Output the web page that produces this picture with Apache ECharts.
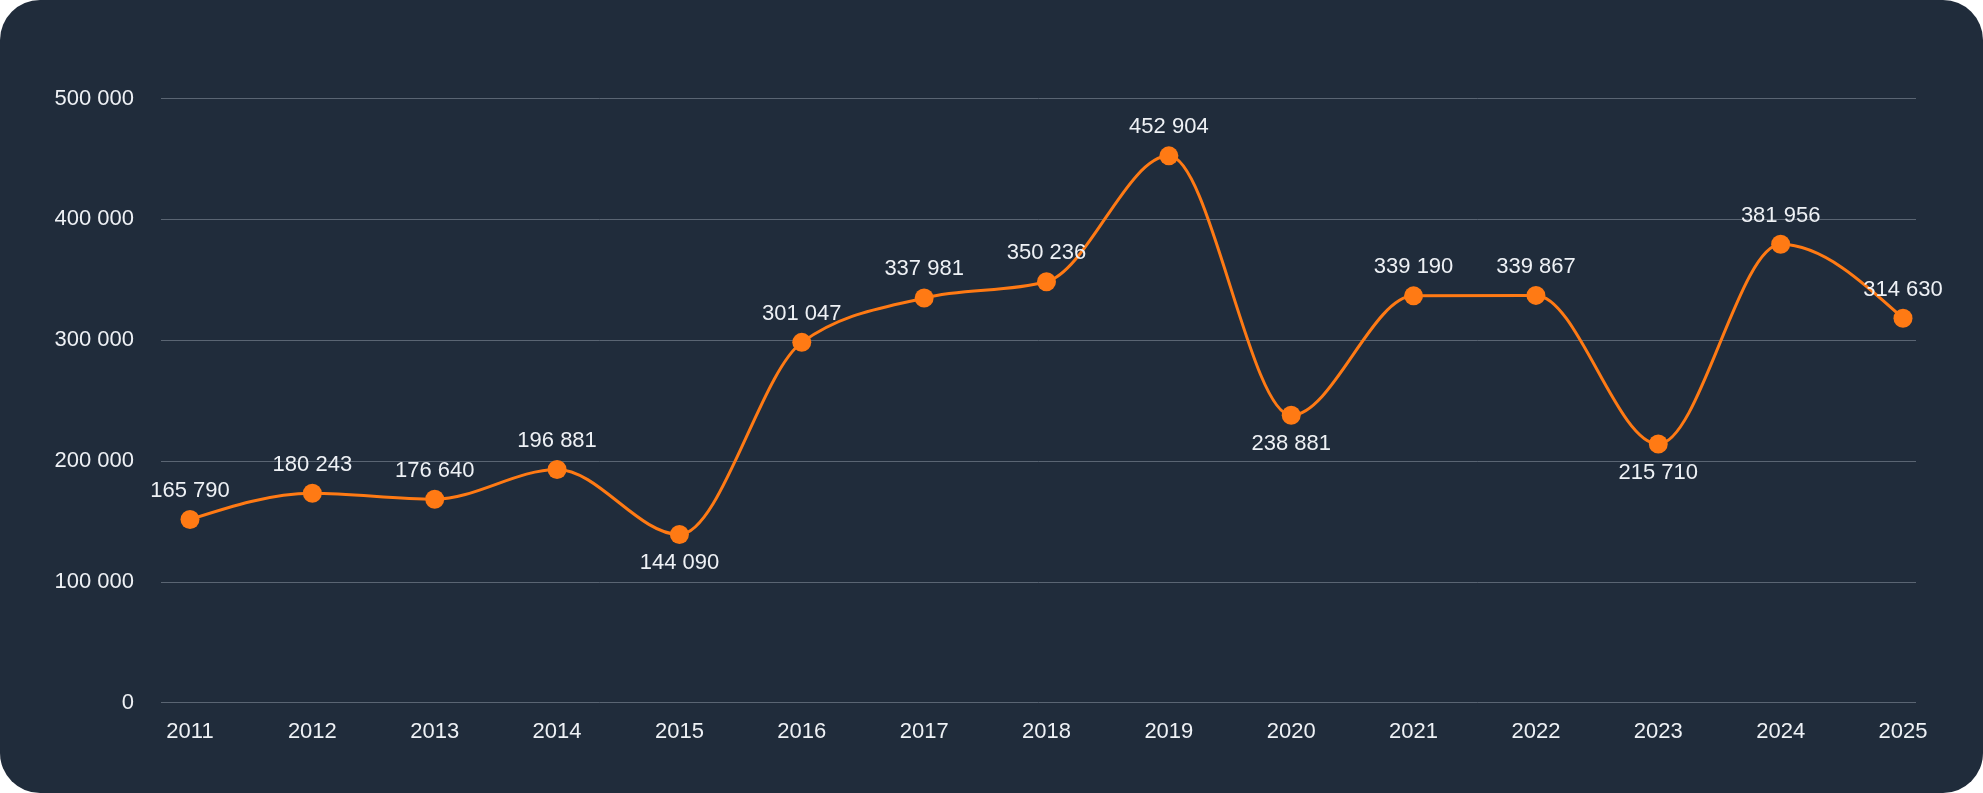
<!DOCTYPE html>
<html>
<head>
<meta charset="utf-8">
<script src="https://cdn.jsdelivr.net/npm/echarts@6/dist/echarts.min.js"></script>
<style>
  html, body { margin: 0; padding: 0; background: #ffffff; }
  #chart {
    width: 1983px;
    height: 793px;
    background: #202c3b;
    border-radius: 40px;
    overflow: hidden;
  }
</style>
</head>
<body>
<div id="chart"></div>
<script>
// data
const years = ["2011", "2012", "2013", "2014", "2015", "2016", "2017", "2018",
  "2019", "2020", "2021", "2022", "2023", "2024", "2025"];
// where the dots sit on the value scale
const values = [151600, 173300, 168400, 193000, 139100, 298200, 335000, 348400,
  452600, 237800, 336700, 337100, 214000, 379400, 318200];
// the numbers printed next to the dots
const valueLabels = ["165 790", "180 243", "176 640", "196 881", "144 090", "301 047",
  "337 981", "350 236", "452 904", "238 881", "339 190", "339 867", "215 710",
  "381 956", "314 630"];
// years whose label sits under the dot
const labelBelow = ["2015", "2020", "2023"];
const yTicks = [0, 100000, 200000, 300000, 400000, 500000];

const textColor = "#eef1f5";
const orange = "#ff7a14";
const fontFamily = "'Liberation Sans', Arial, sans-serif";

function spaced(v) {
  return String(v).replace(/\B(?=(\d{3})+(?!\d))/g, " ");
}

function sign(x) {
  return x < 0 ? -1 : 1;
}

// monotone cubic tangents (same idea as d3 curveMonotoneX)
function monotoneTangents(pts) {
  const n = pts.length;
  const t = new Array(n).fill(0);
  for (let i = 1; i < n - 1; i++) {
    const h0 = pts[i][0] - pts[i - 1][0];
    const h1 = pts[i + 1][0] - pts[i][0];
    const s0 = (pts[i][1] - pts[i - 1][1]) / h0;
    const s1 = (pts[i + 1][1] - pts[i][1]) / h1;
    const p = (s0 * h1 + s1 * h0) / (h0 + h1);
    t[i] = (sign(s0) + sign(s1)) * Math.min(Math.abs(s0), Math.abs(s1), 0.5 * Math.abs(p)) || 0;
  }
  const hA = pts[1][0] - pts[0][0];
  t[0] = (3 * (pts[1][1] - pts[0][1]) / hA - t[1]) / 2;
  const hB = pts[n - 1][0] - pts[n - 2][0];
  t[n - 1] = (3 * (pts[n - 1][1] - pts[n - 2][1]) / hB - t[n - 2]) / 2;
  return t;
}

function renderSegment(params, api) {
  const i = params.dataIndex;
  if (i >= values.length - 1) return null;
  const pts = values.map((v, j) => api.coord([j, v]));
  const t = monotoneTangents(pts);
  const p0 = pts[i];
  const p1 = pts[i + 1];
  const dx = (p1[0] - p0[0]) / 3;
  return {
    type: "bezierCurve",
    shape: {
      x1: p0[0], y1: p0[1],
      cpx1: p0[0] + dx, cpy1: p0[1] + dx * t[i],
      cpx2: p1[0] - dx, cpy2: p1[1] - dx * t[i + 1],
      x2: p1[0], y2: p1[1],
    },
    style: { stroke: orange, lineWidth: 3, fill: null },
    silent: true,
  };
}

const chart = echarts.init(document.getElementById("chart"));

const option = {
  backgroundColor: "transparent",
  textStyle: { fontFamily: fontFamily },
  grid: [
    // grid for the line
    { left: 190, right: 80, top: 98.6, bottom: 90.4 },
    // grid for the horizontal rules and y labels
    { left: 161, right: 67, top: 98.6, bottom: 90.4 },
  ],
  xAxis: [
    {
      gridIndex: 0,
      type: "category",
      data: years,
      boundaryGap: false,
      axisLine: { show: false },
      axisTick: { show: false },
      axisLabel: { color: textColor, fontSize: 22, margin: 18, fontFamily: fontFamily },
    },
    { gridIndex: 1, type: "value", show: false, min: 0, max: 1 },
  ],
  yAxis: [
    {
      gridIndex: 0,
      type: "value",
      min: yTicks[0],
      max: yTicks[yTicks.length - 1],
      interval: yTicks[1] - yTicks[0],
      show: false,
    },
    {
      gridIndex: 1,
      type: "value",
      min: yTicks[0],
      max: yTicks[yTicks.length - 1],
      interval: yTicks[1] - yTicks[0],
      axisLine: { show: false },
      axisTick: { show: false },
      axisLabel: {
        color: textColor,
        fontSize: 22,
        margin: 27,
        fontFamily: fontFamily,
        formatter: spaced,
      },
      splitLine: { lineStyle: { color: "#5a6573", width: 1 } },
    },
  ],
  series: [
    {
      type: "custom",
      xAxisIndex: 0,
      yAxisIndex: 0,
      data: values,
      renderItem: renderSegment,
      z: 2,
    },
    {
      type: "line",
      xAxisIndex: 0,
      yAxisIndex: 0,
      symbol: "circle",
      symbolSize: 19,
      lineStyle: { opacity: 0 },
      itemStyle: { color: orange },
      z: 3,
      label: {
        show: true,
        color: textColor,
        fontSize: 22,
        fontFamily: fontFamily,
        distance: 8,
      },
      data: values.map((v, i) => ({
        value: v,
        label: {
          position: labelBelow.includes(years[i]) ? "bottom" : "top",
          formatter: valueLabels[i],
        },
      })),
    },
  ],
};

chart.setOption(option);
</script>
</body>
</html>
